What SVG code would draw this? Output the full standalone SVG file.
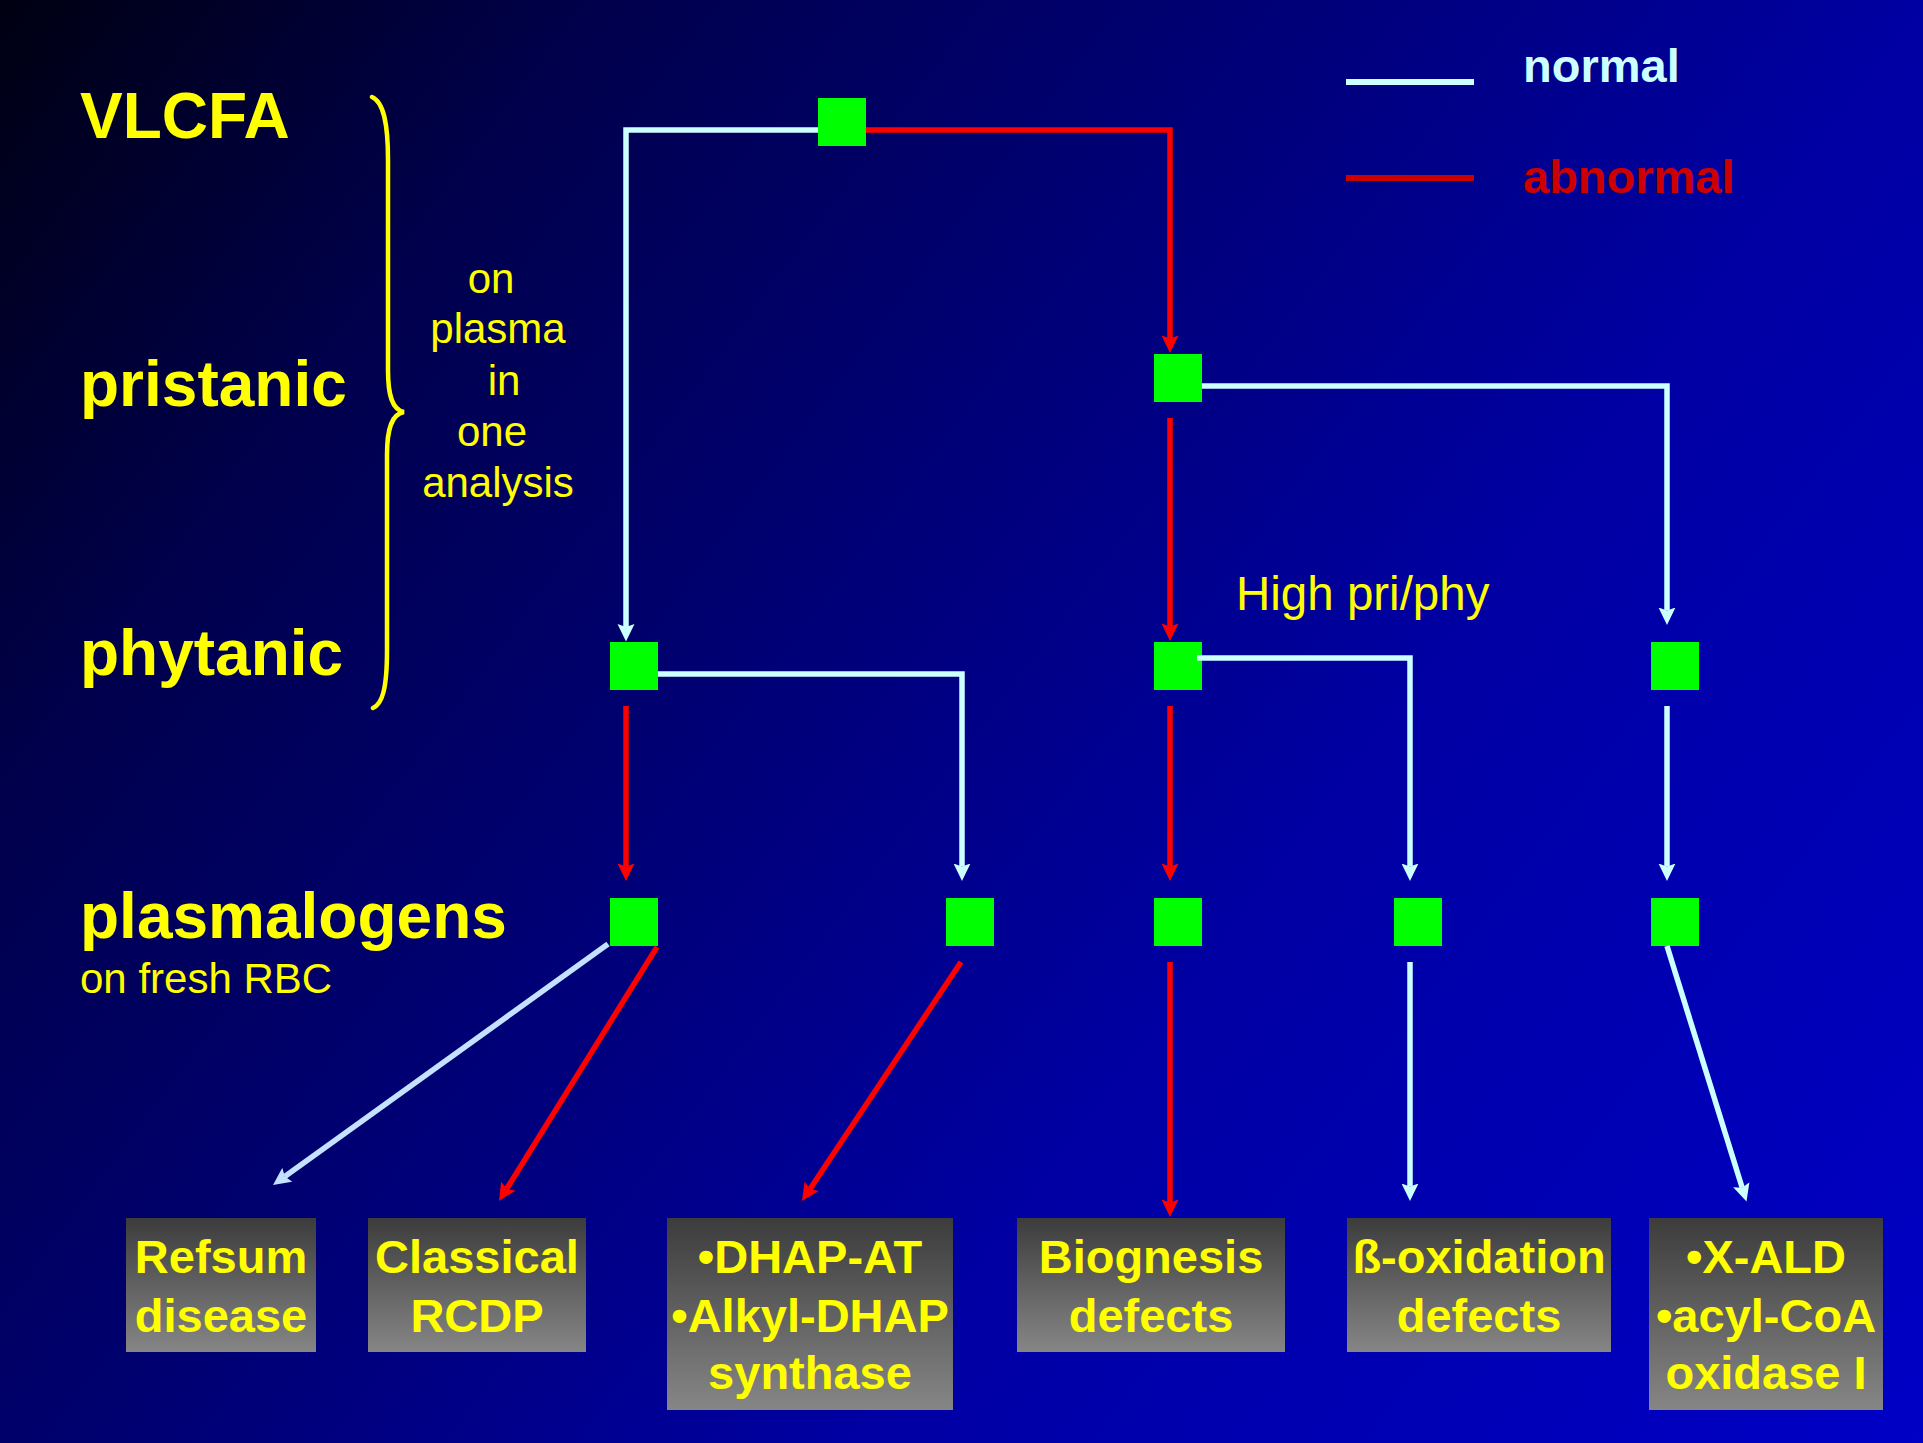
<svg xmlns="http://www.w3.org/2000/svg" width="1923" height="1443" viewBox="0 0 1923 1443">
<defs>
<linearGradient id="bg" gradientUnits="userSpaceOnUse" x1="0" y1="0" x2="1923" y2="1443">
<stop offset="0" stop-color="#000012"/>
<stop offset="0.2" stop-color="#00004c"/>
<stop offset="0.38" stop-color="#00006e"/>
<stop offset="0.65" stop-color="#0000a4"/>
<stop offset="1" stop-color="#0000c6"/>
</linearGradient>
<linearGradient id="box" x1="0" y1="0" x2="0" y2="1">
<stop offset="0" stop-color="#3c3c3c"/>
<stop offset="1" stop-color="#868686"/>
</linearGradient>
<marker id="aw" markerUnits="userSpaceOnUse" markerWidth="18" markerHeight="18" viewBox="0 0 18 18" refX="3" refY="9" orient="auto">
<path d="M0,0.5 L17.5,9 L0,17.5 L3,9 z" fill="#ccffff"/>
</marker>
<marker id="ab" markerUnits="userSpaceOnUse" markerWidth="18" markerHeight="18" viewBox="0 0 18 18" refX="3" refY="9" orient="auto">
<path d="M0,0.5 L17.5,9 L0,17.5 L3,9 z" fill="#c4e2ff"/>
</marker>
<marker id="ar" markerUnits="userSpaceOnUse" markerWidth="18" markerHeight="18" viewBox="0 0 18 18" refX="3" refY="9" orient="auto">
<path d="M0,0.5 L17.5,9 L0,17.5 L3,9 z" fill="#ff0000"/>
</marker>
</defs>
<style>
.lbl{font-family:"Liberation Sans",Arial,sans-serif;font-weight:bold;font-size:64px;fill:#ffff00}
.sm{font-family:"Liberation Sans",Arial,sans-serif;font-size:42px;fill:#ffff00}
.bx{font-family:"Liberation Sans",Arial,sans-serif;font-weight:bold;font-size:47px;fill:#ffff00;text-anchor:middle}
.leg{font-family:"Liberation Sans",Arial,sans-serif;font-weight:bold;font-size:47px}
.sq{fill:#00ff00}
.box{fill:url(#box)}
.n{fill:none;stroke:#ccffff;stroke-width:5.5;stroke-linejoin:miter}
.a{fill:none;stroke:#ff0000;stroke-width:5.5;stroke-linejoin:miter}
.nw{marker-end:url(#aw)}
.rw{marker-end:url(#ar)}
</style>
<rect x="0" y="0" width="1923" height="1443" fill="url(#bg)"/>

<g id="labels">
<text class="lbl" x="80" y="138">VLCFA</text>
<text class="lbl" x="80" y="406">pristanic</text>
<text class="lbl" x="80" y="675">phytanic</text>
<text class="lbl" x="80" y="938">plasmalogens</text>
<text class="sm" x="80" y="993">on fresh RBC</text>
<path d="M372,97 C384,102 388,125 388,160 L388,370 C388,395 392,410 404,412 C392,414 387,428 387,455 L387,650 C387,690 382,704 373,708" fill="none" stroke="#ffff00" stroke-width="4.5" stroke-linecap="round"/>
<g class="sm" text-anchor="middle">
<text x="491" y="293">on</text>
<text x="498" y="343">plasma</text>
<text x="504" y="395">in</text>
<text x="492" y="446">one</text>
<text x="498" y="497">analysis</text>
</g>
<text class="sm" x="1236" y="610" style="font-size:47.5px">High pri/phy</text>
</g>

<g id="legend">
<rect x="1346" y="79" width="128" height="6" fill="#ccffff"/>
<text class="leg" x="1523" y="82" fill="#ccffff">normal</text>
<rect x="1346" y="175" width="128" height="6" fill="#cc0000"/>
<text class="leg" x="1523" y="193" fill="#cc0000">abnormal</text>
</g>

<g id="node-vlcfa"><rect class="sq" x="818" y="98" width="48" height="48"/></g>
<g id="node-pristanic"><rect class="sq" x="1154" y="354" width="48" height="48"/></g>
<g id="node-phy-a"><rect class="sq" x="610" y="642" width="48" height="48"/></g>
<g id="node-phy-c"><rect class="sq" x="1154" y="642" width="48" height="48"/></g>
<g id="node-phy-e"><rect class="sq" x="1651" y="642" width="48" height="48"/></g>
<g id="node-pl-a"><rect class="sq" x="610" y="898" width="48" height="48"/></g>
<g id="node-pl-b"><rect class="sq" x="946" y="898" width="48" height="48"/></g>
<g id="node-pl-c"><rect class="sq" x="1154" y="898" width="48" height="48"/></g>
<g id="node-pl-d"><rect class="sq" x="1394" y="898" width="48" height="48"/></g>
<g id="node-pl-e"><rect class="sq" x="1651" y="898" width="48" height="48"/></g>

<g id="box-refsum"><rect class="box" x="126" y="1218" width="190" height="134"/>
<text class="bx" x="221" y="1273">Refsum</text><text class="bx" x="221" y="1332">disease</text></g>
<g id="box-rcdp"><rect class="box" x="368" y="1218" width="218" height="134"/>
<text class="bx" x="477" y="1273">Classical</text><text class="bx" x="477" y="1332">RCDP</text></g>
<g id="box-dhap"><rect class="box" x="667" y="1218" width="286" height="192"/>
<text class="bx" x="810" y="1273">•DHAP-AT</text><text class="bx" x="810" y="1332">•Alkyl-DHAP</text><text class="bx" x="810" y="1389">synthase</text></g>
<g id="box-biog"><rect class="box" x="1017" y="1218" width="268" height="134"/>
<text class="bx" x="1151" y="1273">Biognesis</text><text class="bx" x="1151" y="1332">defects</text></g>
<g id="box-box"><rect class="box" x="1347" y="1218" width="264" height="134"/>
<text class="bx" x="1479" y="1273">ß-oxidation</text><text class="bx" x="1479" y="1332">defects</text></g>
<g id="box-xald"><rect class="box" x="1649" y="1218" width="234" height="192"/>
<text class="bx" x="1766" y="1273">•X-ALD</text><text class="bx" x="1766" y="1332">•acyl-CoA</text><text class="bx" x="1766" y="1389">oxidase I</text></g>

<g id="connectors">
<path class="n nw" d="M818,130 H626 V627"/>
<path class="a rw" d="M866,130 H1170 V338.5"/>
<path class="n nw" d="M1202,386 H1667 V610.5"/>
<path class="a rw" d="M1170,418 V626.5"/>
<path class="n nw" d="M658,674 H962 V866.5"/>
<path class="a rw" d="M626,706 V866.5"/>
<path class="n nw" d="M1197,658 H1410 V866.5"/>
<path class="a rw" d="M1170,706 V866.5"/>
<path class="n nw" d="M1667,706 V866.5"/>
<path class="n" style="stroke:#c4e2ff" marker-end="url(#ab)" d="M608,944 L284.8,1176.5"/>
<path class="a rw" d="M657,947 L506.7,1188.7"/>
<path class="a rw" d="M961,962 L810,1188.9"/>
<path class="a rw" d="M1170,962 V1202.5"/>
<path class="n nw" d="M1410,962 V1186.5"/>
<path class="n nw" d="M1667,946 L1742.2,1187.7"/>
</g>
</svg>
